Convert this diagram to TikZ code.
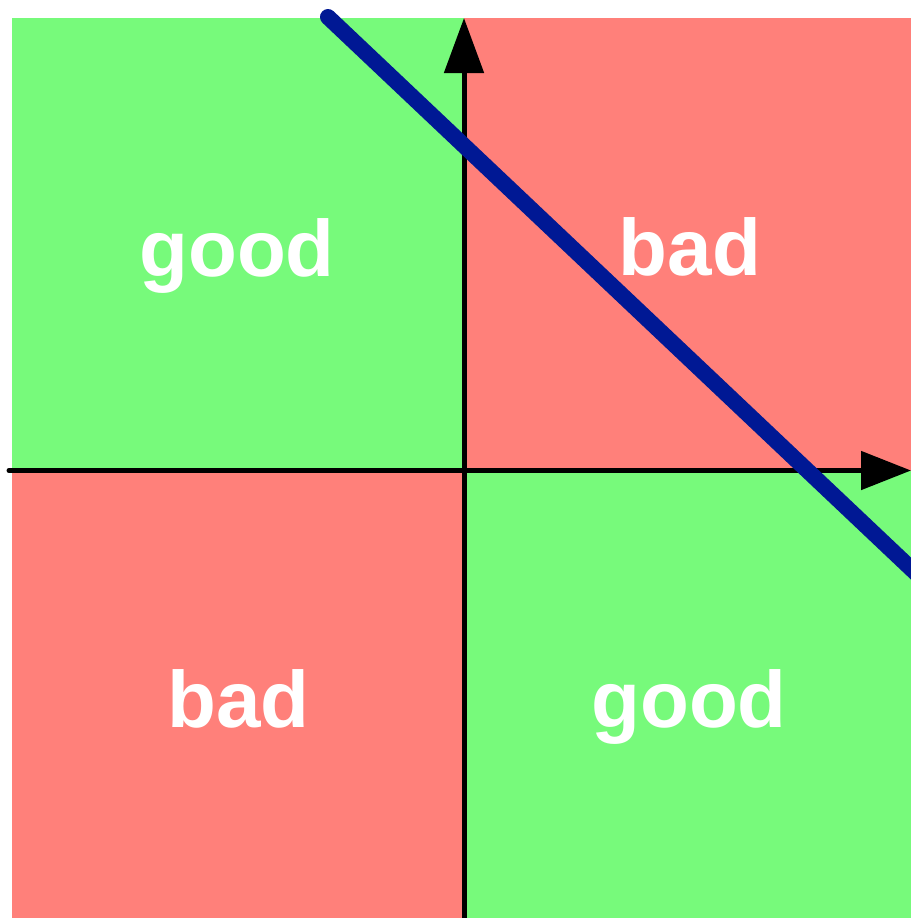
\documentclass[tikz,border=0pt]{standalone}
\usepackage{fontspec}
\setmainfont{Liberation Sans}
\usetikzlibrary{arrows.meta}
\definecolor{goodgreen}{RGB}{119,250,123}
\definecolor{badred}{RGB}{255,128,122}
\definecolor{lineblue}{RGB}{0,24,148}
\tikzset{
  quad/.style={draw=none},
  axis/.style={line width=2.5pt,black},
  lbl/.style={text=white,font=\fontsize{40}{48}\selectfont\bfseries,anchor=base,inner sep=0pt},
  boundary/.style={line width=8pt,lineblue,line cap=round}
}
\begin{document}
\begin{tikzpicture}[x=0.5pt,y=-0.5pt]
\useasboundingbox (0,0) rectangle (911,918);
\clip (0,0) rectangle (911,918);
% quadrants
\fill[goodgreen,quad] (12,18) rectangle (464,470.5);
\fill[badred,quad] (464,18) rectangle (911,470.5);
\fill[badred,quad] (12,470.5) rectangle (464,918);
\fill[goodgreen,quad] (464,470.5) rectangle (911,918);
% axes
\coordinate (xs) at (9,470.5);
\coordinate (xe) at (911,470.5);
\coordinate (ys) at (464,918);
\coordinate (ye) at (464,18);
\draw[axis,line cap=round,-{Triangle[length=25pt,width=19pt]}] (xs) -- (xe);
\draw[axis,-{Triangle[length=27.5pt,width=19.5pt]}] (ys) -- (ye);
% decision line
\coordinate (bs) at (328,17);
\coordinate (be) at (1000,652.7);
\draw[boundary] (bs) -- (be);
% labels
\node[lbl] (g1) at (237,276) {good};
\node[lbl] (b1) at (690,275) {bad};
\node[lbl] (b2) at (238.5,727) {bad};
\node[lbl] (g2) at (689,727) {good};
\end{tikzpicture}
\end{document}
